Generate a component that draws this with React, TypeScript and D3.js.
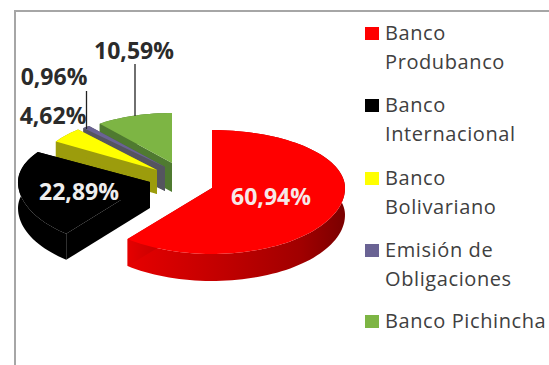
import React from "react";
import * as d3 from "d3";

// Share of each source of funding, clockwise from twelve o'clock.
const categories = ["Banco Produbanco", "Banco Internacional", "Banco Bolivariano", "Emisión de Obligaciones", "Banco Pichincha"];
const legendLines = [["Banco", "Produbanco"], ["Banco", "Internacional"], ["Banco", "Bolivariano"], ["Emisión de", "Obligaciones"], ["Banco Pichincha"]];
const shares = [60.94, 22.89, 4.62, 0.96, 10.59];

const topColors = ["#ff0000", "#000000", "#ffff00", "#6a6394", "#7db544"];
const wallColors = ["url(#redWall)", "#000000", "#9c9c0c", "#55555f", "#4f7a30"];

// Each exploded slice has its own apex and ellipse radii on the tilted plane.
const sliceFrames = [
  { cx: 212, cy: 188, rx: 133, up: 58, down: 66, depth: 27 },
  { cx: 150, cy: 182, rx: 132, up: 57, down: 67, depth: 26 },
  { cx: 157, cy: 170, rx: 119, up: 54, down: 54, depth: 24 },
  { cx: 165, cy: 167, rx: 123, up: 52, down: 52, depth: 24 },
  { cx: 172, cy: 163, rx: 117, up: 50, down: 50, depth: 29 },
];
const paintOrder = [4, 3, 2, 1, 0];

const valueLabels = [
  { x: 271, y: 197, fill: "#f6e8e8" },
  { x: 79, y: 192, fill: "#eeeeee" },
  { x: 53, y: 116, fill: "#2b2b2b" },
  { x: 54, y: 77, fill: "#2b2b2b" },
  { x: 134, y: 51, fill: "#2b2b2b" },
];
const leaders = [
  { x: 135, y1: 64, y2: 116 },
  { x: 86.5, y1: 91, y2: 129 },
];
const legendRows = [33, 105, 178, 250, 321];

const FONT = "'Open Sans', sans-serif";
const pieLayout = d3.pie<number>().value((d) => d).sort(null)(shares);
const outline = d3.line<[number, number]>();

type Frame = (typeof sliceFrames)[number];

function pointAt(f: Frame, angle: number): [number, number] {
  const c = Math.cos(angle);
  return [f.cx + f.rx * Math.sin(angle), f.cy - (c >= 0 ? f.up : f.down) * c];
}

function rimPoints(f: Frame, a0: number, a1: number): [number, number][] {
  const n = Math.max(4, Math.ceil((a1 - a0) / 0.04));
  return d3.range(n + 1).map((i) => pointAt(f, a0 + ((a1 - a0) * i) / n));
}

const drop = (pts: [number, number][], dy: number) => pts.map(([x, y]) => [x, y + dy] as [number, number]);

function Slice({ index }: { index: number }) {
  const f = sliceFrames[index];
  const { startAngle, endAngle } = pieLayout[index];
  const rim = rimPoints(f, startAngle, endAngle);
  const apex: [number, number] = [f.cx, f.cy];
  const wall = (edge: [number, number][]) => outline([...edge, ...drop(edge, f.depth).reverse()]) + "Z";
  return (
    <g>
      <path d={wall(rim)} fill={wallColors[index]} />
      <path d={wall([apex, rim[0]])} fill={wallColors[index]} />
      <path d={wall([apex, rim[rim.length - 1]])} fill={wallColors[index]} />
      <path d={outline([apex, ...rim]) + "Z"} fill={topColors[index]} />
    </g>
  );
}

export default function App() {
  return (
    <svg width={549} height={365} style={{ position: "fixed", left: 0, top: 0, background: "#fff" }} fontFamily={FONT}>
      <defs>
        <linearGradient id="redWall" x1="0" x2="1" y1="0" y2="0">
          <stop offset="0" stopColor="#e60000" />
          <stop offset="0.45" stopColor="#c00000" />
          <stop offset="0.8" stopColor="#a00000" />
          <stop offset="1" stopColor="#7a0000" />
        </linearGradient>
      </defs>
      <path d="M15 365V11H549" fill="none" stroke="#a6a6a6" strokeWidth={2} />
      {paintOrder.map((i) => <Slice key={categories[i]} index={i} />)}
      {leaders.map((l) => (
        <line key={l.x} x1={l.x} x2={l.x} y1={l.y1} y2={l.y2} stroke="#222" strokeWidth={1.3} />
      ))}
      {shares.map((v, i) => (
        <text key={categories[i]} x={valueLabels[i].x} y={valueLabels[i].y} dy="0.35em" textAnchor="middle"
          fontSize={23} fontWeight={700} fill={valueLabels[i].fill}>
          {v.toFixed(2).replace(".", ",") + "%"}
        </text>
      ))}
      {categories.map((c, i) => (
        <g key={c} transform={`translate(0,${legendRows[i]})`}>
          <rect x={365} y={-6} width={14} height={13} fill={topColors[i]} />
          {legendLines[i].map((t, j) => (
            <text key={t} x={385} y={7 + j * 29} fontSize={20} letterSpacing={0.6} fill="#404040">{t}</text>
          ))}
        </g>
      ))}
    </svg>
  );
}
